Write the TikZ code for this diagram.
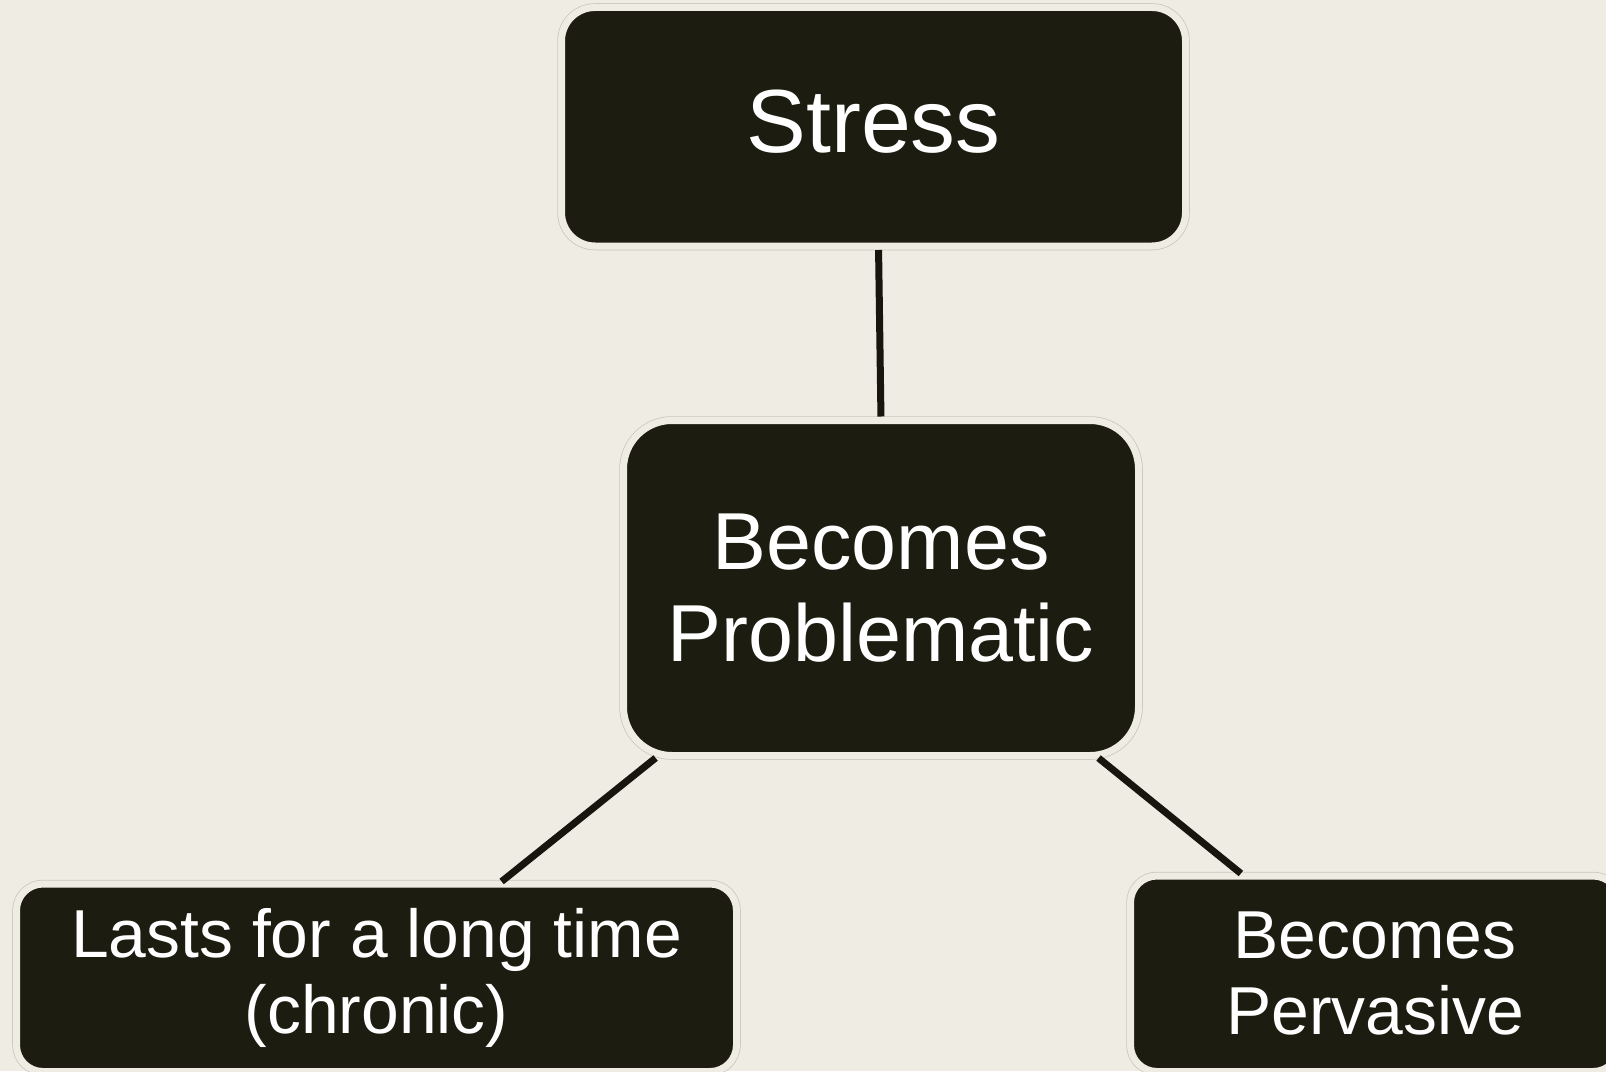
\documentclass[tikz,border=0pt]{standalone}
\usepackage{fontspec}
\setmainfont{Liberation Sans}
\usepackage{xcolor}
\usepackage{tikz}

\definecolor{paper}{HTML}{EFECE4}
\definecolor{boxfill}{HTML}{1C1D10}
\definecolor{boxedge}{HTML}{C9C6BA}
\definecolor{linkcol}{HTML}{16160E}

\begin{document}
\begin{tikzpicture}[
    box/.style={rectangle, fill=boxfill, draw=paper, line width=0.07cm,
        preaction={draw=boxedge, line width=0.085cm},
        text=white, align=center, inner sep=0pt, outer sep=0pt},
    topbox/.style={box, rounded corners=0.335cm, minimum width=6.24cm, minimum height=2.385cm,
        font=\fontsize{25.5}{30}\selectfont},
    midbox/.style={box, rounded corners=0.485cm, minimum width=5.15cm, minimum height=3.35cm,
        font=\fontsize{23}{26.2}\selectfont},
    leafbox/.style={box, rounded corners=0.265cm, font=\fontsize{19.3}{21.5}\selectfont},
    link/.style={draw=linkcol, line width=0.07cm, shorten <=0.04cm, shorten >=0.04cm},
]

% ========== Canvas ==========
\fill[paper] (0,0) rectangle (16.06,-10.71);
\useasboundingbox (0,0) rectangle (16.06,-10.71);

% ========== Boxes ==========
\node[topbox, text depth=0.12cm] (stress) at (8.735,-1.2675) {Stress};
\node[midbox] (prob) at (8.81,-5.88) {Becomes\\Problematic};
\node[leafbox, minimum width=7.20cm, minimum height=1.875cm] (chronic) at (3.765,-9.7775)
    {Lasts for a long time\\(chronic)};
\node[leafbox, minimum width=4.89cm, minimum height=1.955cm] (pervasive) at (13.75,-9.7375)
    {Becomes\\Pervasive};

% ========== Links ==========
\draw[link] ([xshift=0.05cm]stress.south) -- (prob.north);
\draw[link] (prob.217) -- ([xshift=1.22cm]chronic.north);
\draw[link] (prob.322) -- ([xshift=-1.31cm]pervasive.north);

\end{tikzpicture}
\end{document}
